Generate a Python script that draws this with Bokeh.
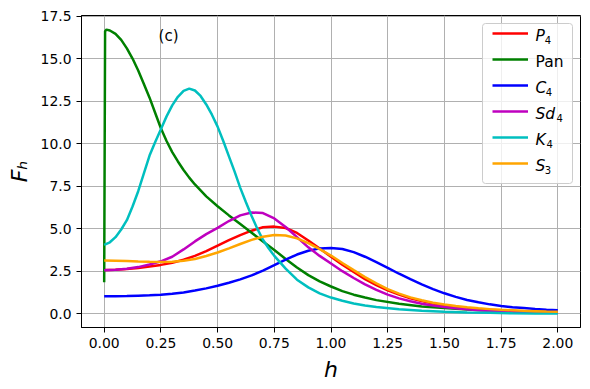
from bokeh.plotting import figure
from bokeh.models import (Range1d, FixedTicker, PrintfTickFormatter, Legend, LegendItem, Label,
                          BoxAnnotation)
from bokeh.embed import file_html
from bokeh.resources import INLINE

# ---- data ----
h = [0.0, 0.05, 0.1, 0.15, 0.2, 0.25, 0.3, 0.35, 0.4, 0.45, 0.5, 0.55, 0.6, 0.65, 0.7,
     0.75, 0.8, 0.85, 0.9, 0.95, 1.0, 1.05, 1.1, 1.15, 1.2, 1.25, 1.3, 1.35, 1.4, 1.45,
     1.5, 1.55, 1.6, 1.65, 1.7, 1.75, 1.8, 1.85, 1.9, 1.95, 2.0]

P4 = [2.57, 2.59, 2.63, 2.69, 2.77, 2.87, 3.0, 3.17, 3.4, 3.68, 4.0, 4.32, 4.62, 4.88, 5.08,
      5.12, 5.04, 4.75, 4.3, 3.83, 3.35, 2.88, 2.45, 2.03, 1.68, 1.38, 1.12, 0.91, 0.74, 0.6,
      0.49, 0.4, 0.33, 0.27, 0.23, 0.19, 0.16, 0.13, 0.11, 0.1, 0.08]

pan_h = [0.0, 0.004, 0.01, 0.025, 0.05, 0.075, 0.1, 0.125, 0.15, 0.175, 0.2, 0.225, 0.25,
         0.275, 0.3, 0.325, 0.35, 0.375, 0.4, 0.45, 0.5, 0.55, 0.6, 0.65, 0.7, 0.75, 0.8,
         0.85, 0.9, 0.95, 1.0, 1.05, 1.1, 1.15, 1.2, 1.3, 1.4, 1.5, 1.6, 1.7, 1.8, 1.9, 2.0]
Pan = [1.85, 16.6, 16.7, 16.65, 16.45, 16.1, 15.6, 15.0, 14.3, 13.5, 12.7, 11.8, 10.9,
       10.15, 9.5, 8.95, 8.45, 8.0, 7.6, 6.9, 6.32, 5.78, 5.27, 4.76, 4.25, 3.75, 3.22,
       2.72, 2.27, 1.9, 1.6, 1.33, 1.12, 0.95, 0.8, 0.58, 0.43, 0.33, 0.25, 0.19, 0.14, 0.11, 0.08]

C4 = [1.02, 1.03, 1.04, 1.06, 1.08, 1.11, 1.17, 1.25, 1.36, 1.49, 1.64, 1.82, 2.02, 2.25, 2.53,
      2.85, 3.18, 3.48, 3.7, 3.84, 3.87, 3.8, 3.62, 3.35, 3.03, 2.7, 2.35, 2.03, 1.72, 1.45,
      1.2, 0.99, 0.81, 0.67, 0.55, 0.46, 0.38, 0.33, 0.28, 0.24, 0.21]

Sd4 = [2.55, 2.58, 2.64, 2.74, 2.89, 3.08, 3.35, 3.78, 4.25, 4.68, 5.05, 5.45, 5.78, 5.95, 5.92,
       5.6, 5.1, 4.5, 3.9, 3.4, 2.95, 2.5, 2.1, 1.72, 1.4, 1.12, 0.9, 0.73, 0.59, 0.48,
       0.39, 0.32, 0.26, 0.21, 0.18, 0.15, 0.13, 0.11, 0.09, 0.08, 0.07]

k4_h = [0.0, 0.025, 0.05, 0.075, 0.1, 0.125, 0.15, 0.175, 0.2, 0.225, 0.25, 0.275, 0.3, 0.325,
        0.35, 0.375, 0.4, 0.425, 0.45, 0.475, 0.5, 0.525, 0.55, 0.575, 0.6, 0.625, 0.65, 0.675,
        0.7, 0.725, 0.75, 0.8, 0.85, 0.9, 0.95, 1.0, 1.05, 1.1, 1.15, 1.2, 1.3, 1.4, 1.5, 1.6,
        1.7, 1.8, 1.9, 2.0]
K4 = [4.05, 4.2, 4.5, 4.95, 5.5, 6.3, 7.2, 8.25, 9.3, 10.1, 10.85, 11.6, 12.25, 12.75,
      13.1, 13.23, 13.12, 12.8, 12.3, 11.7, 11.0, 10.15, 9.25, 8.35, 7.4, 6.55, 5.75, 5.0,
      4.35, 3.85, 3.4, 2.65, 2.0, 1.55, 1.2, 0.95, 0.76, 0.6, 0.48, 0.39, 0.26, 0.17, 0.11, 0.07,
      0.05, 0.03, 0.02, 0.02]

S3 = [3.13, 3.12, 3.1, 3.07, 3.05, 3.04, 3.05, 3.11, 3.22, 3.39, 3.6, 3.84, 4.1, 4.34, 4.53,
      4.63, 4.6, 4.43, 4.15, 3.8, 3.42, 2.98, 2.56, 2.15, 1.78, 1.45, 1.18, 0.96, 0.79, 0.65,
      0.54, 0.45, 0.38, 0.32, 0.27, 0.23, 0.2, 0.17, 0.15, 0.13, 0.12]

# legend names: letters (italic) + subscript digit
names = ["P", "Pan", "C", "Sd", "K", "S"]
subs = ["4", "", "4", "4", "4", "3"]
colors = ["#ff0000", "#008000", "#0000ff", "#bf00bf", "#00bfbf", "#ffa500"]

x_ticks = [0.0, 0.25, 0.5, 0.75, 1.0, 1.25, 1.5, 1.75, 2.0]
y_ticks = [0.0, 2.5, 5.0, 7.5, 10.0, 12.5, 15.0, 17.5]

FONT = "DejaVu Sans"
FS = 13.9
FS_LEG = 15.5
FS_SUB = 10.0

W, H = 588, 387
LEFT, RIGHT, TOP, BOTTOM = 81, 8, 15, 60

p = figure(width=W, height=H,
           x_range=Range1d(-0.1, 2.1), y_range=Range1d(-0.81, 17.53),
           output_backend="svg", toolbar_location=None,
           min_border_left=LEFT, min_border_right=RIGHT, min_border_top=TOP, min_border_bottom=BOTTOM)

p.background_fill_color = "white"
p.border_fill_color = "white"
p.outline_line_color = "black"
p.outline_line_width = 1
p.outline_line_alpha = 1

for g in (p.xgrid, p.ygrid):
    g.grid_line_color = "#b0b0b0"
    g.grid_line_width = 1

p.xgrid.ticker = FixedTicker(ticks=x_ticks)
p.ygrid.ticker = FixedTicker(ticks=y_ticks)

p.xaxis.ticker = FixedTicker(ticks=x_ticks)
p.yaxis.ticker = FixedTicker(ticks=y_ticks)
p.xaxis.formatter = PrintfTickFormatter(format="%.2f")
p.yaxis.formatter = PrintfTickFormatter(format="%.1f")

for ax in (p.xaxis, p.yaxis):
    ax.axis_line_color = "black"
    ax.axis_line_width = 1
    ax.major_tick_line_color = "black"
    ax.major_tick_line_width = 1
    ax.major_tick_out = 5
    ax.major_tick_in = 0
    ax.minor_tick_line_color = None
    ax.major_label_text_font = FONT
    ax.major_label_text_font_size = f"{FS}px"
    ax.major_label_text_color = "black"
    ax.major_label_standoff = 5
    ax.axis_label_text_font = FONT
    ax.axis_label_text_font_size = "22px"
    ax.axis_label_text_font_style = "italic"
    ax.axis_label_text_color = "black"
    ax.axis_label_standoff = 6

p.xaxis.axis_label = "h"
p.yaxis.axis_label = "F\u2095"

# legend geometry
MARGIN, PAD, GLYPH_W, STANDOFF, LABEL_W, ROW_H, SPACING = 8, 5, 36, 12, 32, 20, 6
frame_w = W - LEFT - RIGHT
frame_h = H - TOP - BOTTOM
legend_w = PAD * 2 + GLYPH_W + STANDOFF + LABEL_W
legend_h = PAD * 2 + len(names) * ROW_H + (len(names) - 1) * SPACING

# semi-transparent legend frame, drawn over the grid
p.add_layout(BoxAnnotation(left=frame_w - MARGIN - legend_w, right=frame_w - MARGIN,
                           top=frame_h - MARGIN, bottom=frame_h - MARGIN - legend_h,
                           left_units="screen", right_units="screen",
                           top_units="screen", bottom_units="screen",
                           fill_color="white", fill_alpha=0.8,
                           line_color="#cccccc", line_width=1, line_alpha=1,
                           border_radius=3, level="underlay"))

series = [(h, P4), (pan_h, Pan), (h, C4), (h, Sd4), (k4_h, K4), (h, S3)]
items = []
for (xs, ys), col in zip(series, colors):
    r = p.line(xs, ys, line_color=col, line_width=2.5)
    items.append(LegendItem(label=" ", renderers=[r]))

legend = Legend(items=items, location="top_right")
legend.label_text_font = FONT
legend.label_text_font_size = f"{FS}px"
legend.glyph_width = GLYPH_W
legend.glyph_height = ROW_H
legend.label_height = ROW_H
legend.label_width = LABEL_W
legend.label_standoff = STANDOFF
legend.spacing = SPACING
legend.padding = PAD
legend.margin = MARGIN
legend.border_line_color = None
legend.background_fill_color = None
legend.background_fill_alpha = 0
p.add_layout(legend)

text_x = frame_w - MARGIN - legend_w + PAD + GLYPH_W + STANDOFF
sub_dx = {"P": 9.3, "C": 10.3, "Sd": 21.0, "K": 11.0, "S": 9.3}
for i, (nm, sb) in enumerate(zip(names, subs)):
    center = MARGIN + PAD + ROW_H / 2 + i * (ROW_H + SPACING)
    base = frame_h - (center - 3)
    style = "italic" if sb else "normal"
    p.add_layout(Label(x=text_x, y=base, x_units="screen", y_units="screen", text=nm,
                       text_font=FONT, text_font_size=f"{FS_LEG}px", text_font_style=style,
                       text_color="black", text_baseline="alphabetic", text_align="left"))
    if sb:
        p.add_layout(Label(x=text_x + sub_dx[nm], y=base - 4, x_units="screen", y_units="screen",
                           text=sb, text_font=FONT, text_font_size=f"{FS_SUB}px",
                           text_color="black", text_baseline="alphabetic", text_align="left"))

p.add_layout(Label(x=0.24, y=16.3, text="(c)", text_font=FONT, text_font_size="15px",
                   text_color="black", text_baseline="alphabetic", text_align="left"))

open("out.html", "w").write(file_html(p, INLINE))
